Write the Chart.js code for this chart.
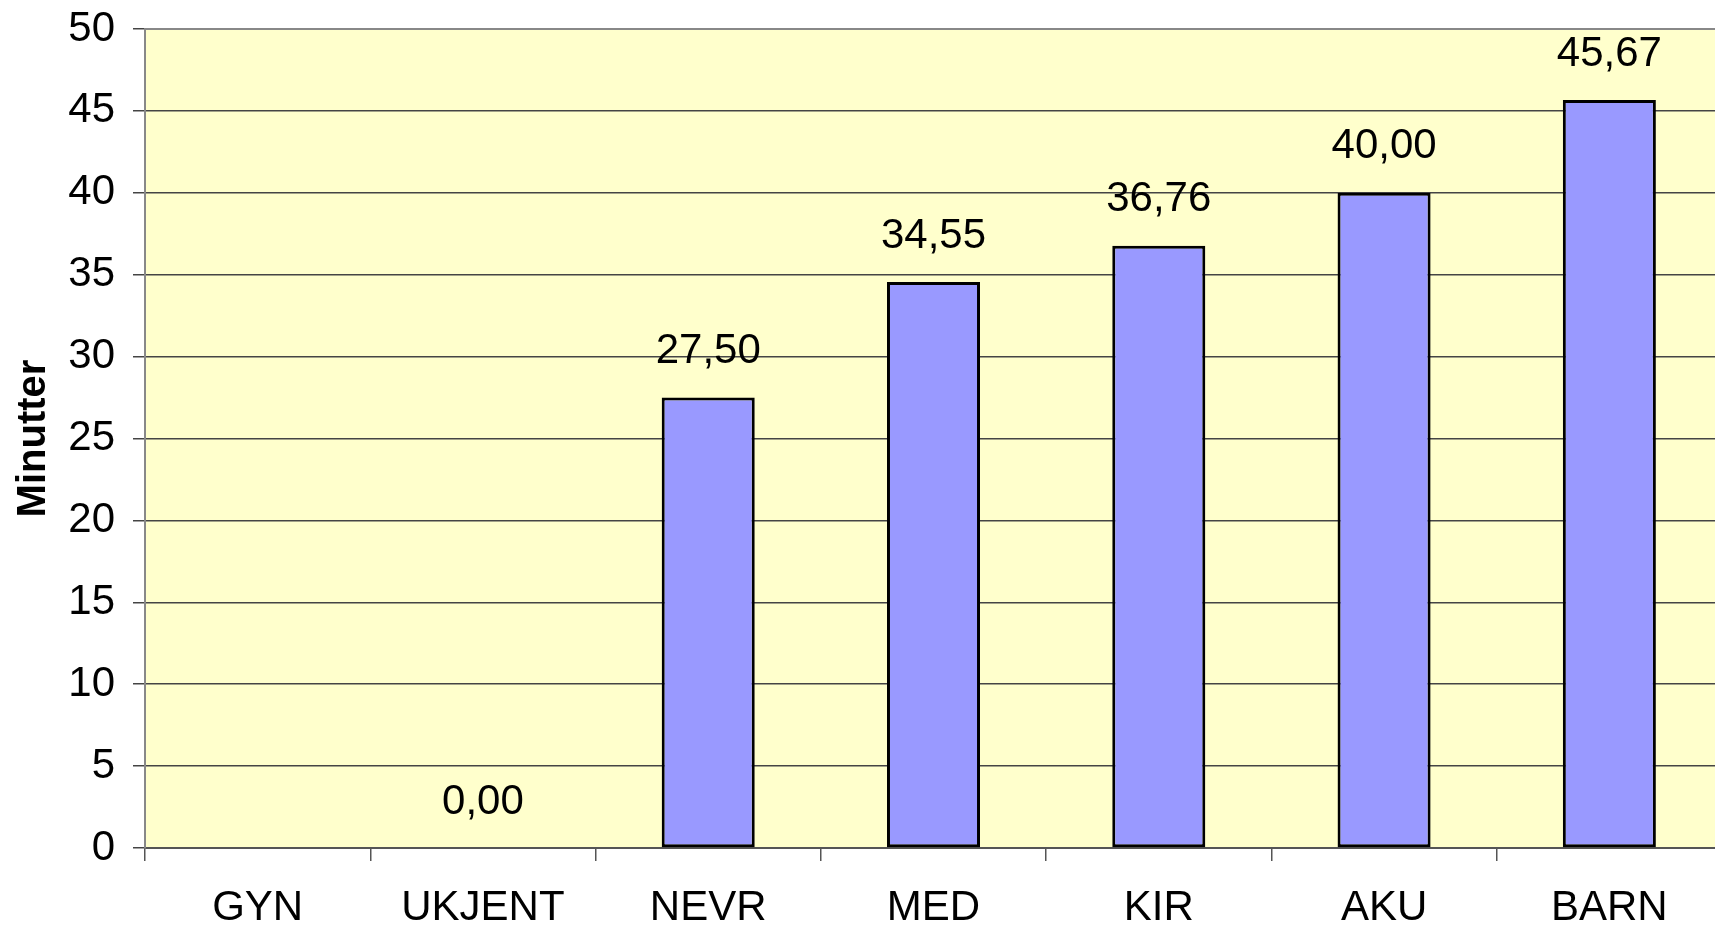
<!doctype html>
<html>
  <head>
    <title>Minutter</title>
    <script src="https://cdn.jsdelivr.net/npm/chart.js@4.4.1/dist/chart.umd.min.js"></script>
    <style>
      body { margin: 0; overflow: hidden; background: #fff; }
      #boks { width: 1722px; height: 930px; }
    </style>
  </head>
  <body>
    <div id="boks"><canvas id="joonis"></canvas></div>
    <script>
      // kategoriar og verdiar
      const avdelinger = ['GYN', 'UKJENT', 'NEVR', 'MED', 'KIR', 'AKU', 'BARN'];
      const minutter = [null, 0, 27.5, 34.55, 36.76, 40.0, 45.67];
      const yTicks = [0, 5, 10, 15, 20, 25, 30, 35, 40, 45, 50];

      const fontNavn = "'Liberation Sans', Arial, sans-serif";

      // gul bakgrunn i plotteomradet
      const bakgrunn = {
        id: 'bakgrunn',
        beforeDraw(chart) {
          const a = chart.chartArea, c = chart.ctx;
          c.save();
          c.fillStyle = '#FFFFCC';
          c.fillRect(a.left, a.top, a.right - a.left, a.bottom - a.top);
          c.restore();
        },
        afterDatasetsDraw(chart) {
          const a = chart.chartArea, c = chart.ctx;
          c.save();
          c.strokeStyle = '#888888';
          c.lineWidth = 2;
          c.beginPath();
          c.moveTo(a.left, a.top);
          c.lineTo(a.right, a.top);
          c.stroke();
          c.restore();
        }
      };

      // tal over stolpane
      const verdiTekst = {
        id: 'verdiTekst',
        afterDatasetsDraw(chart) {
          const c = chart.ctx;
          const meta = chart.getDatasetMeta(0);
          const y = chart.scales.y;
          c.save();
          c.font = '42px ' + fontNavn;
          c.fillStyle = '#000';
          c.textAlign = 'center';
          c.textBaseline = 'middle';
          meta.data.forEach((bar, i) => {
            const v = minutter[i];
            if (v === null) return;
            c.fillText(v.toFixed(2).replace('.', ','), bar.x, y.getPixelForValue(v) - 46);
          });
          c.restore();
        }
      };

      new Chart(document.getElementById('joonis'), {
        type: 'bar',
        data: {
          labels: avdelinger,
          datasets: [{
            data: minutter,
            backgroundColor: '#9999FF',
            borderColor: '#000000',
            borderWidth: 3,
            borderSkipped: false,
            categoryPercentage: 1,
            barPercentage: 0.413
          }]
        },
        options: {
          responsive: true,
          maintainAspectRatio: false,
          animation: false,
          layout: { padding: { top: 29, right: 0, left: 0, bottom: 0 } },
          plugins: { legend: { display: false }, tooltip: { enabled: false } },
          scales: {
            x: {
              offset: true,
              grid: { offset: true, drawOnChartArea: false, drawTicks: true, tickLength: 13, color: '#555555', lineWidth: 1.5 },
              border: { color: '#555555', width: 2 },
              ticks: { color: '#000', font: { family: fontNavn, size: 42 }, padding: 22, maxRotation: 0, autoSkip: false },
              afterFit(s) { s.height = 82; s.paddingLeft = 0; s.paddingRight = 0; }
            },
            y: {
              min: 0,
              max: 50,
              afterBuildTicks(s) { s.ticks = yTicks.map(v => ({ value: v })); },
              grid: { color: '#444444', lineWidth: 1.5, tickLength: 12 },
              border: { color: '#888888', width: 2 },
              ticks: { color: '#000', font: { family: fontNavn, size: 42 }, padding: 18 },
              title: { display: true, text: 'Minutter', color: '#000', font: { family: fontNavn, size: 40, weight: 'bold' }, padding: { top: 10, bottom: 0 } },
              afterFit(s) { s.width = 145; s.paddingTop = 0; s.paddingBottom = 0; }
            }
          }
        },
        plugins: [bakgrunn, verdiTekst]
      });
    </script>
  </body>
</html>
